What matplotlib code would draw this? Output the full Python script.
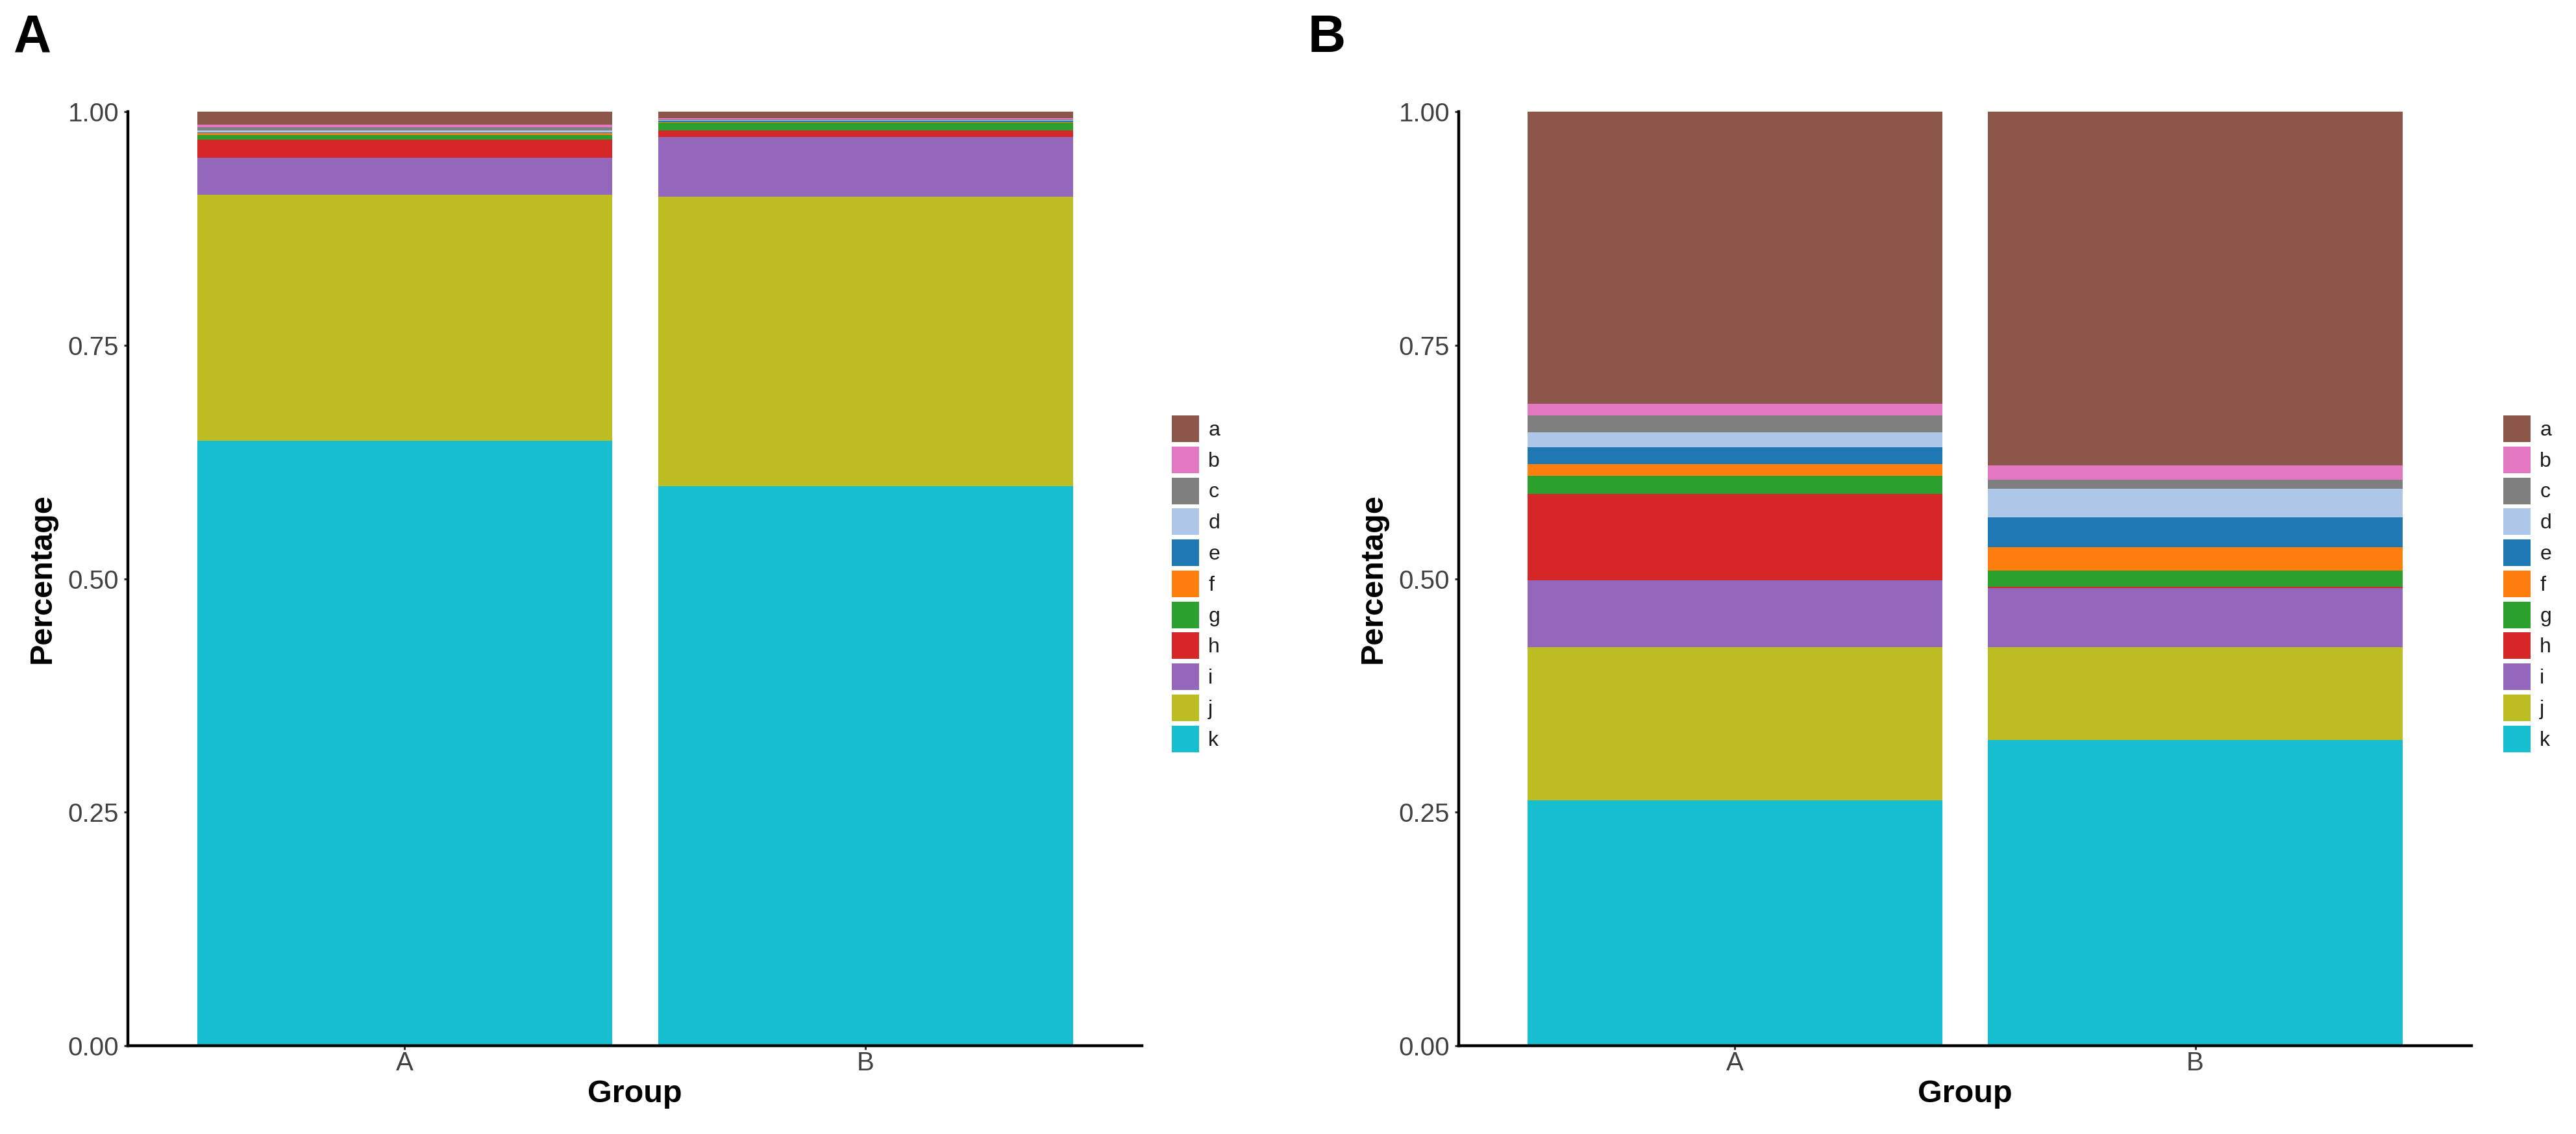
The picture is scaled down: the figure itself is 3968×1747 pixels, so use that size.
import matplotlib
matplotlib.use("Agg")
import matplotlib.pyplot as plt
import numpy as np

plt.rcParams['font.family'] = ['Liberation Sans', 'DejaVu Sans']

groups = ["A", "B"]
taxa = ["a", "b", "c", "d", "e", "f", "g", "h", "i", "j", "k"]
colors = ["#8C564B", "#E377C2", "#7F7F7F", "#AEC7E8", "#1F77B4", "#FF7F0E",
          "#2CA02C", "#D62728", "#9467BD", "#BCBD22", "#17BECF"]

# Panel A: relative abundance per taxon, groups A and B
panelA_a = [0.014, 0.007]
panelA_b = [0.003, 0.001]
panelA_c = [0.003, 0.001]
panelA_d = [0.002, 0.001]
panelA_e = [0.001, 0.001]
panelA_f = [0.002, 0.001]
panelA_g = [0.005, 0.008]
panelA_h = [0.019, 0.007]
panelA_i = [0.040, 0.064]
panelA_j = [0.263, 0.310]
panelA_k = [0.648, 0.599]

# Panel B
panelB_a = [0.313, 0.379]
panelB_b = [0.012, 0.015]
panelB_c = [0.018, 0.010]
panelB_d = [0.016, 0.030]
panelB_e = [0.018, 0.032]
panelB_f = [0.013, 0.025]
panelB_g = [0.019, 0.018]
panelB_h = [0.093, 0.001]
panelB_i = [0.071, 0.063]
panelB_j = [0.164, 0.100]
panelB_k = [0.263, 0.327]

panelA = [panelA_a, panelA_b, panelA_c, panelA_d, panelA_e, panelA_f,
          panelA_g, panelA_h, panelA_i, panelA_j, panelA_k]
panelB = [panelB_a, panelB_b, panelB_c, panelB_d, panelB_e, panelB_f,
          panelB_g, panelB_h, panelB_i, panelB_j, panelB_k]

W, H = 3968, 1747
fig = plt.figure(figsize=(W / 100, H / 100), dpi=100)

y_top, y_bot = 172, 1611
axes_px = [(197, 1759), (2247, 3807)]
legend_px = [(1805, 640), (3856, 640)]
tick_color = "#404040"

for (x0, x1), data, (lx, ly) in zip(axes_px, [panelA, panelB], legend_px):
    ax = fig.add_axes([x0 / W, (H - y_bot) / H, (x1 - x0) / W, (y_bot - y_top) / H])
    xpos = np.arange(len(groups))
    bottom = np.zeros(len(groups))
    handles = {}
    # stack from k (bottom) to a (top)
    for name, col, vals in reversed(list(zip(taxa, colors, data))):
        vals = np.array(vals)
        b = ax.bar(xpos, vals, width=0.9, bottom=bottom, color=col,
                   edgecolor="none", linewidth=0, label=name)
        handles[name] = b
        bottom += vals
    ax.set_xlim(-0.6, 1.6)
    ax.set_ylim(0, 1)
    ax.set_xticks(xpos)
    ax.set_xticklabels(groups)
    ax.set_yticks([0, 0.25, 0.5, 0.75, 1.0])
    ax.set_yticklabels(["0.00", "0.25", "0.50", "0.75", "1.00"])
    for s in ["top", "right"]:
        ax.spines[s].set_visible(False)
    for s in ["left", "bottom"]:
        ax.spines[s].set_linewidth(3.2)
        ax.spines[s].set_color("black")
        ax.spines[s].set_zorder(5)
    ax.tick_params(axis="both", length=4, width=2.2, color="#333333",
                   labelsize=29, labelcolor=tick_color)
    ax.tick_params(axis="y", pad=6)
    ax.tick_params(axis="x", pad=2)
    ax.set_ylabel("Percentage", fontsize=35, fontweight="bold", labelpad=12)
    ax.set_xlabel("Group", fontsize=35, fontweight="bold", labelpad=4)
    ax.set_facecolor("white")
    leg = fig.legend([handles[t] for t in taxa], taxa,
                     loc="upper left", bbox_to_anchor=(lx / W, (H - ly) / H),
                     frameon=False, fontsize=23, handlelength=1.31,
                     handleheight=1.6, labelspacing=0.21, handletextpad=0.45,
                     borderpad=0, borderaxespad=0)
    for t in leg.get_texts():
        t.set_color("#1a1a1a")

fig.text(50 / W, 1 - 59 / H, "A", fontsize=58, fontweight="bold",
         ha="center", va="center")
fig.text(2044 / W, 1 - 59 / H, "B", fontsize=58, fontweight="bold",
         ha="center", va="center")

fig.savefig("out.png", dpi=100, facecolor="white")
